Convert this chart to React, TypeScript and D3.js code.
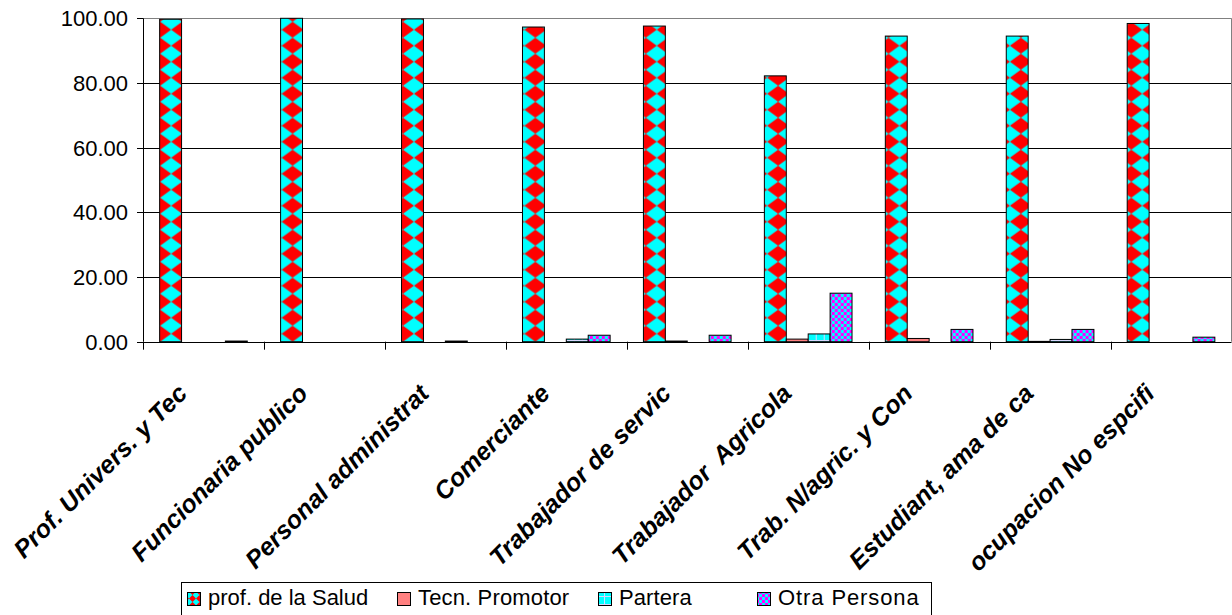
import React from 'react';
import * as d3 from 'd3';

const categories = [
  'Prof. Univers. y Tec',
  'Funcionaria publico',
  'Personal administrat',
  'Comerciante',
  'Trabajador de servic',
  'Trabajador  Agricola',
  'Trab. N/agric. y Con',
  'Estudiant, ama de ca',
  'ocupacion No espcifi',
];
const seriesNames = ['prof. de la Salud', 'Tecn. Promotor', 'Partera', 'Otra Persona'];
const profSalud = [99.7, 100, 99.8, 97.3, 97.6, 82.2, 94.5, 94.5, 98.4];
const tecnPromotor = [0, 0, 0, 0, 0.2, 0.8, 1.0, 0.1, 0];
const partera = [0, 0, 0.2, 0.8, 0, 2.4, 0, 0.7, 0];
const otraPersona = [0.2, 0, 0, 2.0, 2.0, 15.0, 3.8, 3.8, 1.4];
const yTicks = [0, 20, 40, 60, 80, 100];

const FONT = "'Liberation Sans', Arial, Helvetica, sans-serif";

export default function App() {
  const W = 1232;
  const H = 615;
  const left = 143;
  const right = 1231.5;
  const top = 18.3;
  const bottom = 341.7;
  const y = d3.scaleLinear().domain([0, 100]).range([bottom, top]);
  const x0 = d3.scaleBand<string>().domain(categories).range([left, right]).paddingInner(0).paddingOuter(0);
  const catW = x0.bandwidth();
  const gapRatio = 1.52;
  const bw = catW / (4 + gapRatio);
  const x1 = d3
    .scaleBand<string>()
    .domain(seriesNames)
    .range([(catW - 4 * bw) / 2, (catW + 4 * bw) / 2]);
  const seriesValues = [profSalud, tecnPromotor, partera, otraPersona];
  const fills = ['salud', '#FF8080', 'url(#partera)', 'url(#otra)'];

  const legendIconX = [187, 397, 598, 757];
  const legendTextSpacing = [0, 0.15, 0.1, 0.9];

  return (
    <svg
      width={W}
      height={H}
      style={{ position: 'absolute', left: 0, top: 0, display: 'block', background: '#fff' }}
      fontFamily={FONT}
    >
      <defs>
        {categories.map((c, i) => {
          const bx = (x0(c) as number) + (x1(seriesNames[0]) as number);
          return (
            <pattern
              key={c}
              id={`salud${i}`}
              patternUnits="userSpaceOnUse"
              x={bx}
              y={bottom}
              width={bw}
              height={16}
            >
              <rect width={bw} height={16} fill="#00FFFF" />
              <polygon
                points={`${bw / 2},0 ${bw},8 ${bw / 2},16 0,8`}
                fill="#FF0000"
              />
            </pattern>
          );
        })}
        <pattern id="saludLegend" patternUnits="userSpaceOnUse" x={0} y={0} width={7} height={7}>
          <rect width={7} height={7} fill="#00FFFF" />
          <polygon points="3.5,0 7,3.5 3.5,7 0,3.5" fill="#FF0000" />
        </pattern>
        <pattern id="partera" patternUnits="userSpaceOnUse" x={0} y={0} width={8} height={8}>
          <rect width={8} height={8} fill="#00FFFF" />
          <line x1={0} y1={4.5} x2={8} y2={4.5} stroke="#D8D8FF" strokeWidth={1} />
          <line x1={4.5} y1={0} x2={4.5} y2={8} stroke="#D8D8FF" strokeWidth={1} />
        </pattern>
        <pattern id="otra" patternUnits="userSpaceOnUse" x={0} y={0} width={6} height={6}>
          <rect width={6} height={6} fill="#00FFFF" />
          <rect x={0} y={0} width={3} height={3} fill="#FF00FF" />
          <rect x={3} y={3} width={3} height={3} fill="#FF00FF" />
        </pattern>
      </defs>

      {/* gridlines */}
      {yTicks
        .filter((t) => t > 0 && t < 100)
        .map((t) => (
          <line key={t} x1={left} x2={right} y1={Math.round(y(t)) + 0.5} y2={Math.round(y(t)) + 0.5} stroke="#000" strokeWidth={1} />
        ))}
      {/* plot area border top / right */}
      <line x1={left} x2={right} y1={Math.round(top) + 0.5} y2={Math.round(top) + 0.5} stroke="#808080" strokeWidth={1} />
      <line x1={right} x2={right} y1={top} y2={bottom} stroke="#808080" strokeWidth={1} />

      {/* bars */}
      {categories.map((c, i) => (
        <g key={c} transform={`translate(${x0(c)},0)`}>
          {seriesNames.map((s, k) => {
            const v = seriesValues[k][i];
            if (!v) return null;
            const yy = y(v);
            return (
              <rect
                key={s}
                x={x1(s)}
                y={yy}
                width={bw}
                height={Math.max(0, bottom - yy)}
                fill={k === 0 ? `url(#salud${i})` : fills[k]}
                stroke="#000"
                strokeWidth={1}
              />
            );
          })}
        </g>
      ))}

      {/* axes */}
      <line x1={left + 0.5} x2={left + 0.5} y1={top} y2={bottom} stroke="#000" strokeWidth={1} />
      <line x1={left} x2={right} y1={Math.round(bottom) + 0.5} y2={Math.round(bottom) + 0.5} stroke="#000" strokeWidth={1} />
      {yTicks.map((t) => (
        <g key={t}>
          <line x1={137} x2={left} y1={Math.round(y(t)) + 0.5} y2={Math.round(y(t)) + 0.5} stroke="#000" />
          <text x={128} y={y(t)} dy="0.36em" textAnchor="end" fontSize={22} fill="#000">
            {t.toFixed(2)}
          </text>
        </g>
      ))}
      {d3.range(categories.length + 1).map((k) => {
        const xx = Math.round(left + k * catW) + 0.5;
        return <line key={k} x1={xx} x2={xx} y1={bottom} y2={bottom + 8} stroke="#000" />;
      })}
      {categories.map((c) => {
        const cx = (x0(c) as number) + catW / 2 - 15;
        const cy = 395;
        return (
          <text
            key={c}
            transform={`translate(${cx},${cy}) rotate(-45)`}
            textAnchor="end"
            fontSize={25}
            fontWeight="bold"
            fontStyle="italic"
            fill="#000"
            style={{ whiteSpace: 'pre' }}
          >
            {c}
          </text>
        );
      })}

      {/* legend */}
      <rect x={181.5} y={582.5} width={750} height={60} fill="#fff" stroke="#000" strokeWidth={1} />
      {seriesNames.map((s, k) => (
        <g key={s}>
          <rect
            x={legendIconX[k] + 0.5}
            y={592.5}
            width={13}
            height={13}
            fill={k === 0 ? 'url(#saludLegend)' : fills[k]}
            stroke="#000"
            strokeWidth={1}
          />
          <text x={legendIconX[k] + 21} y={605} fontSize={22} fill="#000" letterSpacing={legendTextSpacing[k]}>
            {s}
          </text>
        </g>
      ))}
    </svg>
  );
}
